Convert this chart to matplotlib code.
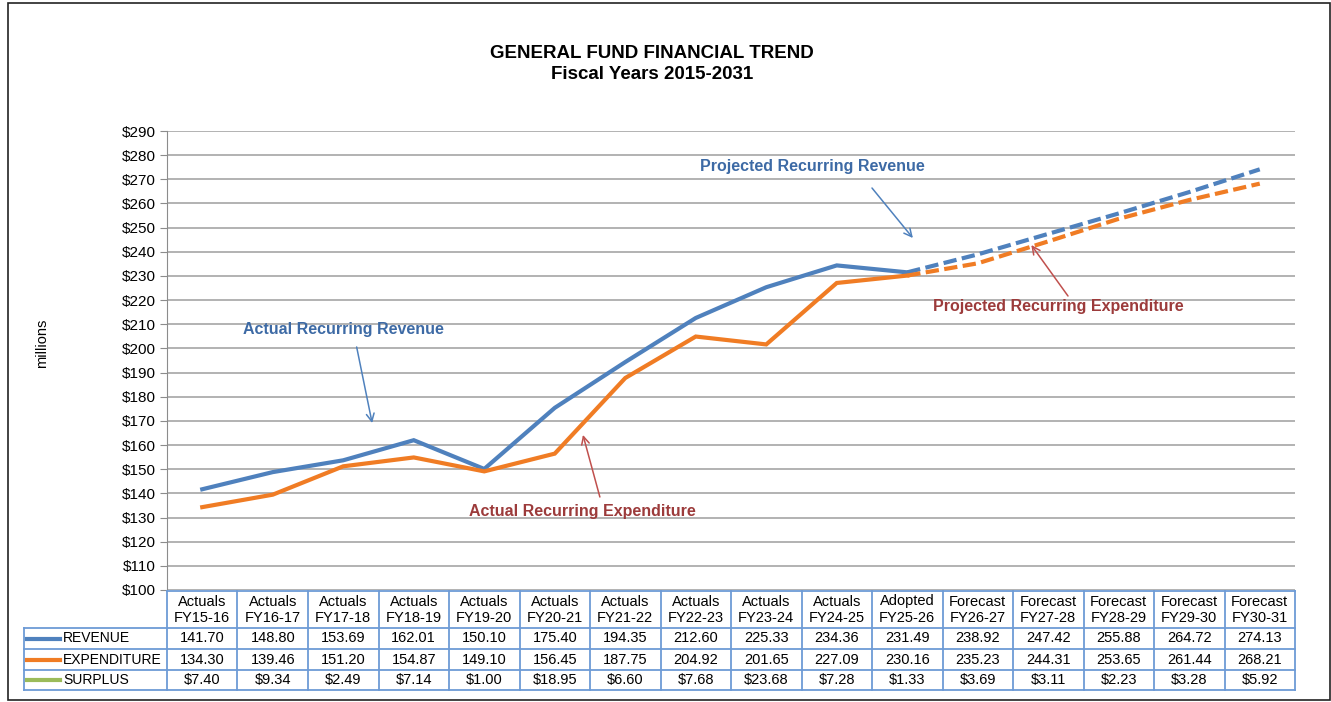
import numpy as np
import matplotlib.pyplot as plt
from matplotlib.patches import Rectangle

plt.rcParams['font.family'] = ['Liberation Sans', 'DejaVu Sans']

# chart data
stage = ['Actuals'] * 10 + ['Adopted'] + ['Forecast'] * 5
years = ['FY15-16', 'FY16-17', 'FY17-18', 'FY18-19', 'FY19-20', 'FY20-21', 'FY21-22',
         'FY22-23', 'FY23-24', 'FY24-25', 'FY25-26', 'FY26-27', 'FY27-28', 'FY28-29',
         'FY29-30', 'FY30-31']
revenue = [141.70, 148.80, 153.69, 162.01, 150.10, 175.40, 194.35, 212.60, 225.33,
           234.36, 231.49, 238.92, 247.42, 255.88, 264.72, 274.13]
expenditure = [134.30, 139.46, 151.20, 154.87, 149.10, 156.45, 187.75, 204.92, 201.65,
               227.09, 230.16, 235.23, 244.31, 253.65, 261.44, 268.21]
surplus = ['$7.40', '$9.34', '$2.49', '$7.14', '$1.00', '$18.95', '$6.60', '$7.68',
           '$23.68', '$7.28', '$1.33', '$3.69', '$3.11', '$2.23', '$3.28', '$5.92']
split = 10  # first projected point (Adopted)

W, H = 1331, 702
BLUE = '#4f81bd'
ORANGE = '#f07c24'
GREEN = '#9bbb59'
TXT_BLUE = '#3d6aa5'
TXT_RED = '#9c3b3b'
GRID = '#a6a6a6'
TBL = '#6d9bd6'
FS = 11
TFS = 10.5


def box(x0, y0, x1, y1):
    # pixel box (top-left origin) -> figure fraction
    return [x0 / W, 1 - y1 / H, (x1 - x0) / W, (y1 - y0) / H]


fig = plt.figure(figsize=(W / 100, H / 100), dpi=100)
fig.patches.append(Rectangle((8 / W, 2 / H), (W - 9) / W, (H - 5) / H,
                             transform=fig.transFigure, fill=False, ec='#222222', lw=1.2))

fig.text(652 / W, 1 - 53 / H, 'GENERAL FUND FINANCIAL TREND', ha='center', va='center',
         fontsize=13.5, fontweight='bold')
fig.text(652 / W, 1 - 74.5 / H, 'Fiscal Years 2015-2031', ha='center', va='center',
         fontsize=13.5, fontweight='bold')
fig.text(42 / W, 1 - 343 / H, 'millions', rotation=90, ha='center', va='center', fontsize=10.5)

ax = fig.add_axes(box(167, 131, 1295, 590))
x = np.arange(len(years))
ax.plot(x[:split + 1], revenue[:split + 1], color=BLUE, lw=3, solid_joinstyle='miter')
ax.plot(x[:split + 1], expenditure[:split + 1], color=ORANGE, lw=3, solid_joinstyle='miter')
ax.plot(x[split:], revenue[split:], color=BLUE, lw=3, dashes=(3.2, 1.3))
ax.plot(x[split:], expenditure[split:], color=ORANGE, lw=3, dashes=(3.2, 1.3))

ax.set_xlim(-0.5, len(years) - 0.5)
ax.set_ylim(100, 290)
ax.set_yticks(np.arange(100, 291, 10))
ax.set_yticklabels(['$%d' % v for v in range(100, 291, 10)], fontsize=FS)
ax.set_xticks([])
ax.grid(axis='y', color=GRID, lw=1.2)
ax.set_axisbelow(True)
for s in ['top', 'right', 'bottom']:
    ax.spines[s].set_visible(False)
ax.spines['left'].set_color('#8c8c8c')
ax.tick_params(axis='y', length=5, color='#8c8c8c', pad=3)

# annotations: (text, text pos, arrow tail, arrow head, text colour, arrow colour)
notes = [
    ('Actual Recurring Revenue', (2.0, 208), (2.19, 200.6), (2.41, 169.1), TXT_BLUE, BLUE),
    ('Actual Recurring Expenditure', (5.39, 132.7), (5.64, 138.5), (5.40, 164.2), TXT_RED, '#c0504d'),
    ('Projected Recurring Revenue', (8.65, 275.1), (9.50, 266.4), (10.08, 245.7), TXT_BLUE, BLUE),
    ('Projected Recurring Expenditure', (12.14, 217.2), (12.28, 221.7), (11.76, 242.8), TXT_RED, '#c0504d'),
]
for label, tpos, tail, head, tc, ac in notes:
    ax.text(tpos[0], tpos[1], label, ha='center', va='center', color=tc,
            fontsize=11.5, fontweight='bold')
    ax.annotate('', xy=head, xytext=tail,
                arrowprops=dict(arrowstyle='->', color=ac, lw=1.1, shrinkA=0, shrinkB=0,
                                mutation_scale=14))

# data table, x in column units shared with the chart, y in pixels
colw = (1295 - 167) / len(years)
left = -0.5 - (167 - 24) / colw
tb = fig.add_axes(box(24, 590, 1295, 691))
tb.set_xlim(left, len(years) - 0.5)
tb.set_ylim(691, 590)
tb.axis('off')

rows = [(628, 649), (649, 670), (670, 690)]
n = len(years)
kw = dict(color=TBL, lw=1.3, clip_on=False)
# horizontal lines
tb.plot([-0.5, n - 0.5], [591, 591], **kw)
for y0, y1 in rows:
    tb.plot([left, n - 0.5], [y0, y0], **kw)
tb.plot([left, n - 0.5], [690, 690], **kw)
# vertical lines
tb.plot([left, left], [628, 690], **kw)
for i in range(n + 1):
    tb.plot([i - 0.5, i - 0.5], [591, 690], **kw)

for i in range(n):
    tb.text(i, 601.5, stage[i], ha='center', va='center', fontsize=TFS)
    tb.text(i, 618, years[i], ha='center', va='center', fontsize=TFS)
    tb.text(i, 638.5, '%.2f' % revenue[i], ha='center', va='center', fontsize=TFS)
    tb.text(i, 659.5, '%.2f' % expenditure[i], ha='center', va='center', fontsize=TFS)
    tb.text(i, 680, surplus[i], ha='center', va='center', fontsize=TFS)

labels = ['REVENUE', 'EXPENDITURE', 'SURPLUS']
colors = [BLUE, ORANGE, GREEN]
for (y0, y1), lab, c in zip(rows, labels, colors):
    yc = (y0 + y1) / 2
    tb.plot([left + 3 / colw, left + 36 / colw], [yc, yc], color=c, lw=3, clip_on=False)
    tb.text(left + 39 / colw, yc, lab, ha='left', va='center', fontsize=10)

fig.savefig('out.png', dpi=100)
